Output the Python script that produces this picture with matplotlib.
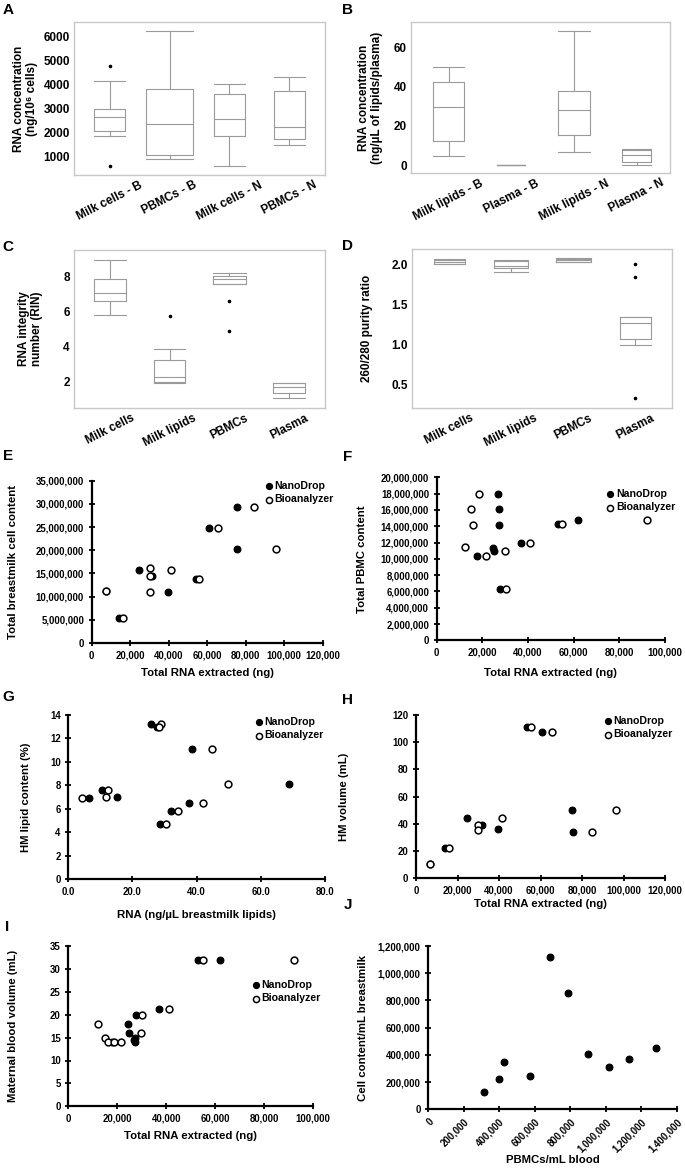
import matplotlib
matplotlib.use('Agg')
import matplotlib.pyplot as plt
from matplotlib.ticker import FuncFormatter
import numpy as np

plt.rcParams['font.family'] = ['Liberation Sans', 'DejaVu Sans']
plt.rcParams['font.weight'] = 'bold'

# ---------------- data ----------------
A_labels = ['Milk cells - B', 'PBMCs - B', 'Milk cells - N', 'PBMCs - N']
A_whislo = [1880, 915, 640, 1510]
A_q1 = [2080, 1095, 1855, 1720]
A_med = [2670, 2380, 2560, 2230]
A_q3 = [3000, 3820, 3585, 3705]
A_whishi = [4135, 6195, 4000, 4300]
A_fliers = [[4760, 610], [], [], []]

B_labels = ['Milk lipids - B', 'Plasma - B', 'Milk lipids - N', 'Plasma - N']
B_whislo = [4.6, 0.1, 6.6, 0.2]
B_q1 = [12.4, 0.15, 15.3, 1.7]
B_med = [29.6, 0.2, 28.2, 4.9]
B_q3 = [42.0, 0.25, 37.6, 7.9]
B_whishi = [49.6, 0.3, 68.3, 8.3]
B_fliers = [[], [], [], []]

C_labels = ['Milk cells', 'Milk lipids', 'PBMCs', 'Plasma']
C_whislo = [5.83, 1.88, 7.6, 1.0]
C_q1 = [6.62, 1.95, 7.62, 1.29]
C_med = [7.08, 2.25, 7.9, 1.67]
C_q3 = [7.9, 3.19, 8.04, 1.87]
C_whishi = [8.96, 3.82, 8.23, 1.88]
C_fliers = [[], [5.74], [6.62, 4.91], []]

D_labels = ['Milk cells', 'Milk lipids', 'PBMCs', 'Plasma']
D_whislo = [2.01, 1.916, 2.04, 0.995]
D_q1 = [2.01, 1.967, 2.04, 1.074]
D_med = [2.04, 1.99, 2.067, 1.267]
D_q3 = [2.067, 2.05, 2.08, 1.35]
D_whishi = [2.07, 2.063, 2.084, 1.35]
D_fliers = [[], [], [], [2.01, 1.85, 0.324]]

E_nd_x = [75300, 61100, 75300, 24800, 31300, 54000, 39500, 7400, 14000]
E_nd_y = [29.3e6, 24.7e6, 20.3e6, 15.7e6, 14.5e6, 13.7e6, 11.1e6, 11.2e6, 5.4e6]
E_bio_x = [84500, 65500, 95600, 30100, 30100, 41200, 30100, 55800, 7400, 16500]
E_bio_y = [29.3e6, 24.7e6, 20.3e6, 16.2e6, 14.5e6, 15.7e6, 11.1e6, 13.7e6, 11.2e6, 5.4e6]

F_nd_x = [27000, 27200, 27300, 24500, 25000, 17800, 36900, 53000, 61900, 27600]
F_nd_y = [17.9e6, 16.1e6, 14.1e6, 11.3e6, 10.9e6, 10.35e6, 11.9e6, 14.3e6, 14.8e6, 6.26e6]
F_bio_x = [18700, 14900, 16100, 12300, 21600, 29800, 41000, 54900, 92300, 30200]
F_bio_y = [17.9e6, 16.1e6, 14.1e6, 11.4e6, 10.35e6, 10.9e6, 11.9e6, 14.3e6, 14.8e6, 6.26e6]

G_nd_x = [25.8, 27.7, 38.7, 68.7, 10.6, 6.5, 15.3, 37.6, 31.9, 28.6]
G_nd_y = [13.26, 12.98, 11.07, 8.09, 7.6, 6.89, 7.03, 6.52, 5.8, 4.7]
G_bio_x = [28.9, 28.4, 44.9, 49.8, 12.3, 4.2, 11.7, 41.9, 34.3, 30.3]
G_bio_y = [13.24, 13.0, 11.07, 8.09, 7.6, 6.89, 7.0, 6.52, 5.8, 4.7]

H_nd_x = [53600, 60600, 75300, 24600, 31600, 39500, 75700, 13800, 6700]
H_nd_y = [110.9, 107.7, 50.2, 44.1, 39.2, 36.0, 34.3, 22.3, 10.3]
H_bio_x = [55400, 65500, 96200, 41300, 30000, 29700, 84700, 16100, 6700]
H_bio_y = [110.9, 107.7, 50.2, 44.1, 39.0, 35.5, 34.3, 22.3, 10.3]

I_nd_x = [53000, 61900, 36900, 27600, 24500, 25000, 27200, 27300, 27000, 17800]
I_nd_y = [32, 32, 21.2, 20, 18, 16, 15, 14, 14.5, 14]
I_bio_x = [54900, 92300, 41000, 30200, 12300, 29800, 14900, 16100, 18700, 21600]
I_bio_y = [32, 32, 21.2, 20, 18, 16, 15, 14, 14, 14]

J_x = [316000, 400000, 425000, 573000, 686000, 790000, 902000, 1019000, 1133000, 1284000]
J_y = [125000, 225000, 350000, 245000, 1122000, 857000, 407000, 309000, 370000, 451000]

# ---------------- figure ----------------
W, H = 685, 1175
fig = plt.figure(figsize=(W / 100, H / 100), dpi=100)


def add_ax(l, r, t, b):
    return fig.add_axes([l / W, 1 - b / H, (r - l) / W, (b - t) / H])


BOXC = '#9a9a9a'


def box_panel(ax, labels, whislo, q1, med, q3, whishi, fliers, widths,
              ylim, yticks, ylabel, ylab_x, xlim=(0.4, 4.6), rot=27, fmt=None):
    stats = [dict(whislo=a, q1=b, med=c, q3=d, whishi=e, fliers=f)
             for a, b, c, d, e, f in zip(whislo, q1, med, q3, whishi, fliers)]
    pos = np.arange(1, len(labels) + 1)
    lp = dict(color=BOXC, lw=0.8)
    ax.bxp(stats, positions=pos, widths=widths, capwidths=widths, showfliers=True,
           boxprops=lp, whiskerprops=lp, capprops=lp,
           medianprops=dict(color=BOXC, lw=0.8),
           flierprops=dict(marker='o', markersize=1.6, markerfacecolor='k',
                           markeredgecolor='k'))
    ax.set_xlim(*xlim)
    ax.set_ylim(*ylim)
    ax.set_yticks(yticks)
    if fmt:
        ax.yaxis.set_major_formatter(FuncFormatter(fmt))
    ax.set_xticks(pos)
    ax.set_xticklabels(labels, rotation=rot, ha='center', fontsize=8.5, fontweight='bold')
    for t in ax.get_yticklabels():
        t.set_fontsize(8.5)
        t.set_fontweight('bold')
    ax.tick_params(length=0, pad=3)
    for s in ax.spines.values():
        s.set_color('#c8c8c8')
        s.set_linewidth(1.0)
    ax.set_ylabel(ylabel, fontsize=8.5, fontweight='bold', linespacing=1.1)
    ax.yaxis.set_label_coords(ylab_x, 0.5)


def comma(v, p):
    return '{:,.0f}'.format(v)


def scatter_panel(ax, ndx, ndy, bix, biy, xlim, xticks, ylim, yticks, xlabel, ylabel,
                  xlab_y, ylab_x, leg_xy, xfmt=comma, yfmt=comma):
    ax.scatter(ndx, ndy, s=24, c='k', edgecolors='k', linewidths=0.8, zorder=3,
               label='NanoDrop', clip_on=False)
    if bix is not None:
        ax.scatter(bix, biy, s=24, c='white', edgecolors='k', linewidths=1.1, zorder=4,
                   label='Bioanalyzer', clip_on=False)
    ax.set_xlim(*xlim)
    ax.set_ylim(*ylim)
    ax.set_xticks(xticks)
    ax.set_yticks(yticks)
    ax.xaxis.set_major_formatter(FuncFormatter(xfmt))
    ax.yaxis.set_major_formatter(FuncFormatter(yfmt))
    for side in ['top', 'right']:
        ax.spines[side].set_visible(False)
    for side in ['left', 'bottom']:
        ax.spines[side].set_linewidth(1.6)
        ax.spines[side].set_color('k')
    ax.tick_params(direction='inout', length=5, width=1.3, labelsize=6.9, pad=3)
    for t in ax.get_xticklabels() + ax.get_yticklabels():
        t.set_fontweight('bold')
    ax.set_xlabel(xlabel, fontsize=8.2, fontweight='bold')
    ax.set_ylabel(ylabel, fontsize=8.2, fontweight='bold')
    ax.xaxis.set_label_coords(0.5, xlab_y)
    ax.yaxis.set_label_coords(ylab_x, 0.5)
    if leg_xy is not None:
        ax.legend(loc='upper left', bbox_to_anchor=leg_xy, frameon=False,
                  prop=dict(size=7.6, weight='bold'), handlelength=0.7,
                  handletextpad=0.15, borderpad=0, borderaxespad=0,
                  labelspacing=0.35, scatterpoints=1, markerscale=0.9)


# A
axA = add_ax(74, 325, 22, 175)
box_panel(axA, A_labels, A_whislo, A_q1, A_med, A_q3, A_whishi, A_fliers,
          [0.52, 0.78, 0.52, 0.52], (250, 6580), [1000, 2000, 3000, 4000, 5000, 6000],
          'RNA concentration\n(ng/10\u2076 cells)', -0.143)
# B
axB = add_ax(411, 670, 22, 173)
box_panel(axB, B_labels, B_whislo, B_q1, B_med, B_q3, B_whishi, B_fliers,
          [0.5, 0.45, 0.52, 0.47], (-4, 72.7), [0, 20, 40, 60],
          'RNA concentration\n(ng/\u00b5L of lipids/plasma)', -0.11, xlim=(0.4, 4.53))
# C
axC = add_ax(74, 325, 250, 408)
box_panel(axC, C_labels, C_whislo, C_q1, C_med, C_q3, C_whishi, C_fliers,
          [0.53, 0.53, 0.55, 0.53], (0.45, 9.55), [2, 4, 6, 8],
          'RNA integrity\nnumber (RIN)', -0.123)
# D
axD = add_ax(412, 672, 249, 408)
box_panel(axD, D_labels, D_whislo, D_q1, D_med, D_q3, D_whishi, D_fliers,
          [0.5, 0.55, 0.56, 0.5], (0.2, 2.2), [0.5, 1.0, 1.5, 2.0],
          '260/280 purity ratio', -0.149, xlim=(0.4, 4.59),
          fmt=lambda v, p: '{:.1f}'.format(v))

# E
axE = add_ax(91.7, 322.7, 480.7, 643)
scatter_panel(axE, E_nd_x, E_nd_y, E_bio_x, E_bio_y, (0, 120000), np.arange(0, 120001, 20000),
              (0, 35e6), np.arange(0, 35e6 + 1, 5e6), 'Total RNA extracted (ng)',
              'Total breastmilk cell content', -0.154, -0.319, (0.75, 1.0))
# F
axF = add_ax(436.7, 665, 477.3, 640.3)
scatter_panel(axF, F_nd_x, F_nd_y, F_bio_x, F_bio_y, (0, 100000), np.arange(0, 100001, 20000),
              (0, 20e6), np.arange(0, 20e6 + 1, 2e6), 'Total RNA extracted (ng)',
              'Total PBMC content', -0.172, -0.307, (0.745, 0.93))
# G
axG = add_ax(68.3, 325, 715, 879)
scatter_panel(axG, G_nd_x, G_nd_y, G_bio_x, G_bio_y, (0, 80), [0, 20, 40, 60, 80],
              (0, 14), np.arange(0, 15, 2), 'RNA (ng/\u00b5L breastmilk lipids)',
              'HM lipid content (%)', -0.189, -0.145, (0.727, 0.99),
              xfmt=lambda v, p: '{:.1f}'.format(v), yfmt=lambda v, p: '{:.0f}'.format(v))
# H
axH = add_ax(416, 665, 715, 878.3)
scatter_panel(axH, H_nd_x, H_nd_y, H_bio_x, H_bio_y, (0, 120000), np.arange(0, 120001, 20000),
              (0, 120), np.arange(0, 121, 20), 'Total RNA extracted (ng)',
              'HM volume (mL)', -0.125, -0.268, (0.758, 0.996))
# I
axI = add_ax(68.3, 313, 946, 1106.3)
scatter_panel(axI, I_nd_x, I_nd_y, I_bio_x, I_bio_y, (0, 100000), np.arange(0, 100001, 20000),
              (0, 35), np.arange(0, 36, 5), 'Total RNA extracted (ng)',
              'Maternal blood volume (mL)', -0.154, -0.204, (0.75, 0.79))
# J
axJ = add_ax(428.3, 676.6, 946, 1109.3)
scatter_panel(axJ, J_x, J_y, None, None, (0, 1400000), np.arange(0, 1400001, 200000),
              (0, 1200000), np.arange(0, 1200001, 200000), 'PBMCs/mL blood',
              'Cell content/mL breastmilk', -0.28, -0.242, None)
for t in axJ.get_xticklabels():
    t.set_rotation(45)
    t.set_ha('right')
    t.set_rotation_mode('anchor')

# panel letters
letters = [('A', 8, 10), ('B', 348, 10), ('C', 8, 247), ('D', 348, 246), ('E', 8, 456),
           ('F', 348, 457), ('G', 8, 697), ('H', 348, 700), ('I', 7, 927), ('J', 348, 905)]
for L, x, y in letters:
    fig.text(x / W, 1 - y / H, L, fontsize=11, fontweight='bold', ha='center', va='center')

fig.savefig('out.png', dpi=100)
